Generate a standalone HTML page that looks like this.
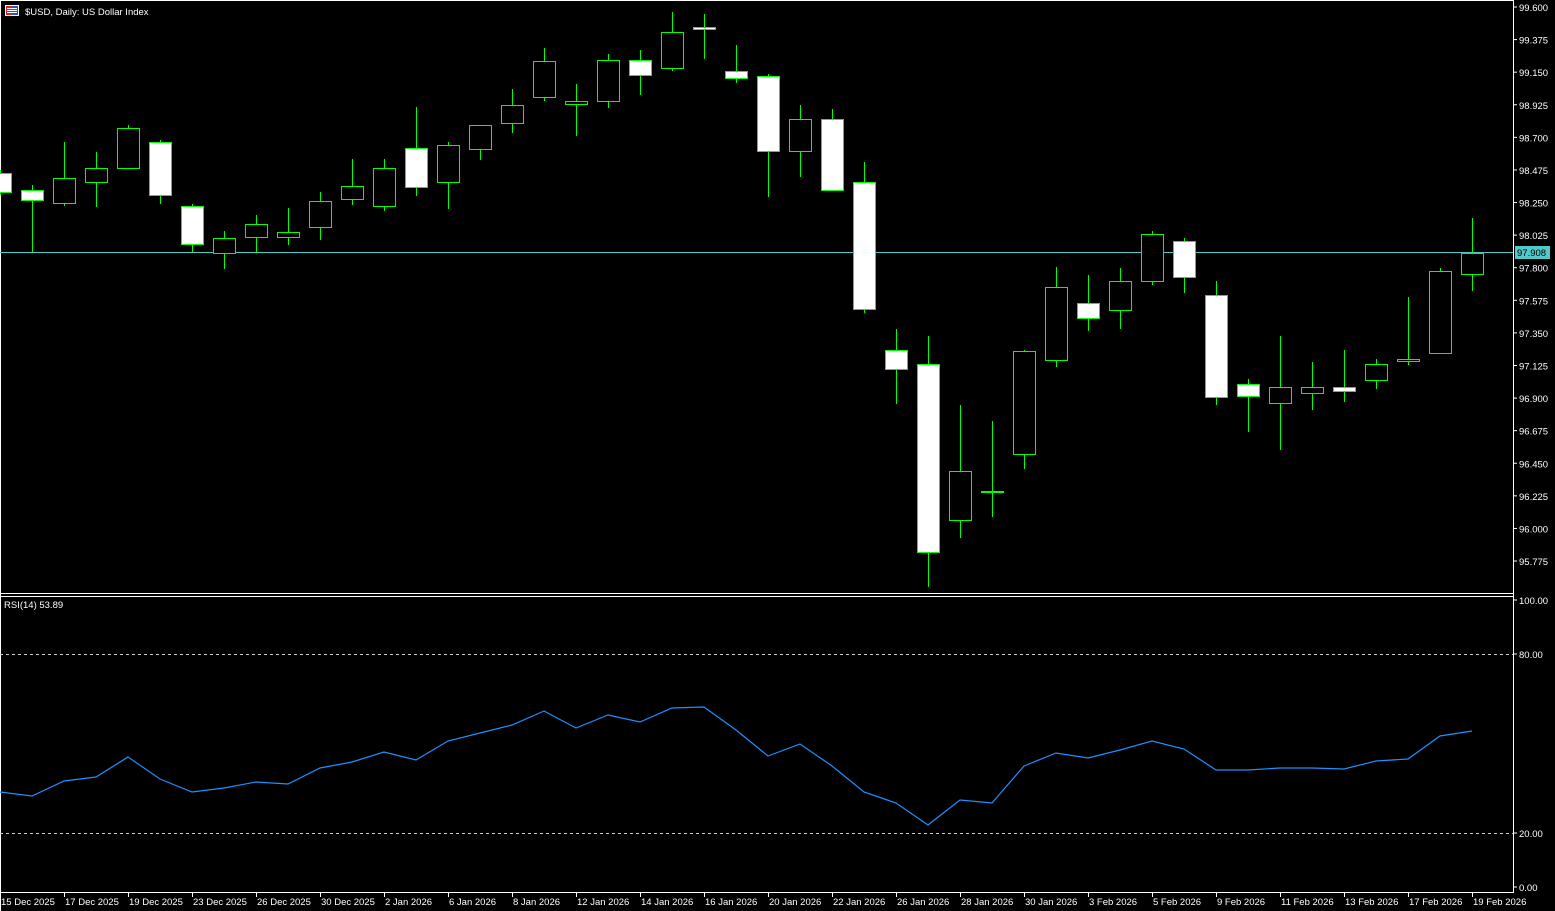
<!DOCTYPE html>
<html><head><meta charset="utf-8"><style>
html,body{margin:0;padding:0;background:#000;}
svg{display:block;font-family:"Liberation Sans",sans-serif;font-size:9.5px;}
</style></head><body>
<svg id="s" width="1555" height="911" viewBox="0 0 1555 911" xmlns="http://www.w3.org/2000/svg">
<rect width="1555" height="911" fill="#000"/>
<g id="g"></g>
<text x="25" y="15" fill="#fff">$USD, Daily:  US Dollar Index</text>
<rect x="5" y="5" width="14" height="11" fill="#fff"/>
<rect x="6" y="6" width="6" height="9" fill="#d22"/><rect x="12" y="6" width="6" height="9" fill="#2255cc"/>
<line x1="7" y1="8.5" x2="17" y2="8.5" stroke="#fff"/><line x1="7" y1="10.5" x2="17" y2="10.5" stroke="#fff"/><line x1="7" y1="12.5" x2="17" y2="12.5" stroke="#fff"/>
<text x="4" y="608" fill="#fff">RSI(14) 53.89</text>
</svg>
<script>
var g=document.getElementById('g'),h='';
function L(a,b,c,d,col,ex){h+='<line x1="'+a+'" y1="'+b+'" x2="'+c+'" y2="'+d+'" stroke="'+col+'" '+(ex||'')+'/>';}
L(0.5,0.5,1513,0.5,'#fff');L(0.5,0,0.5,911,'#fff');
L(0,593.5,1513,593.5,'#fff');L(0,596.5,1513,596.5,'#fff');
L(1513.5,0,1513.5,893,'#fff');L(0,892.5,1513,892.5,'#fff');
for(var i=0;i<18;i++){var y=7+i*32.59,v=(99.6-i*0.225).toFixed(3);L(1513,y,1517,y,'#fff');h+='<text x="1519" y="'+(y+4)+'" fill="#fff">'+v+'</text>';}
L(0,252.5,1513,252.5,'#4fc9c9');
h+='<rect x="1515" y="246" width="35" height="13" fill="#4fc9c9"/><text x="1517" y="256" fill="#000">97.908</text>';
[[600,'100.00'],[654,'80.00'],[833,'20.00'],[887,'0.00']].forEach(function(a){L(1513,a[0],1517,a[0],'#fff');h+='<text x="1519" y="'+(a[0]+4)+'" fill="#fff">'+a[1]+'</text>';});
L(0,654.5,1513,654.5,'#ccc','stroke-dasharray="3,3"');L(0,833.5,1513,833.5,'#ccc','stroke-dasharray="3,3"');
var C=[[0,170,195,173,192,1],[32,185,252,190,200,1],[64,142,206,178,203,0],[96,152,207,168,182,0],[128,125,168,128,168,0],[160,140,204,142,195,1],[192,204,252,206,244,1],[224,231,269,238,253,0],[256,215,253,224,237,0],[288,208,245,232,237,0],[320,192,240,201,227,0],[352,159,205,186,199,0],[384,159,211,168,206,0],[416,107,196,148,187,1],[448,142,209,145,182,0],[480,125,160,125,149,0],[512,89,133,105,123,0],[544,48,101,61,97,0],[576,84,136,101,104,0],[608,54,108,60,101,0],[640,50,95,60,75,1],[672,12,71,32,68,0],[704,14,59,27,29,1],[736,45,83,71,78,1],[768,74,197,76,151,1],[800,105,177,119,151,0],[832,109,191,119,190,1],[864,162,313,182,309,1],[896,329,404,350,369,1],[928,336,587,364,552,1],[960,405,538,471,520,0],[992,421,517,491,492,0],[1024,350,469,351,454,0],[1056,267,367,287,360,0],[1088,275,331,303,318,1],[1120,268,329,281,310,0],[1152,231,285,234,281,0],[1184,238,293,241,277,1],[1216,281,405,295,397,1],[1248,379,432,384,396,1],[1280,336,450,387,403,0],[1312,362,410,387,393,0],[1344,350,402,387,391,1],[1376,359,389,364,380,0],[1408,297,365,359,361,0],[1440,268,353,271,353,0],[1472,218,291,253,274,0]];
C.forEach(function(c){var x=c[0]+0.5;L(x,c[1],x,c[2],'#00ff00');
h+='<rect x="'+(c[0]-10.5)+'" y="'+(c[3]+0.5)+'" width="22" height="'+Math.max(1,c[4]-c[3])+'" fill="'+(c[5]?'#fff':'#000')+'" stroke="#00ff00" stroke-width="1"/>';});
var R=[792,796,781,777,757,779,792,788,782,784,768,762,752,760,741,733,725,711,728,715,722,708,707,730,756,744,766,792,803,825,800,803,766,753,758,750,741,749,770,770,768,768,769,761,759,736,731];
h+='<polyline fill="none" stroke="#1e90ff" stroke-width="1.2" points="'+R.map(function(y,i){return (i*32)+','+y;}).join(' ')+'"/>';
var D=['15 Dec 2025','17 Dec 2025','19 Dec 2025','23 Dec 2025','26 Dec 2025','30 Dec 2025','2 Jan 2026','6 Jan 2026','8 Jan 2026','12 Jan 2026','14 Jan 2026','16 Jan 2026','20 Jan 2026','22 Jan 2026','26 Jan 2026','28 Jan 2026','30 Jan 2026','3 Feb 2026','5 Feb 2026','9 Feb 2026','11 Feb 2026','13 Feb 2026','17 Feb 2026','19 Feb 2026'];
D.forEach(function(d,i){var x=i*64;if(i>0)L(x+0.5,893,x+0.5,897,'#fff');h+='<text x="'+(x+1)+'" y="905" fill="#fff">'+d+'</text>';});
g.innerHTML=h;
</script>
</body></html>
